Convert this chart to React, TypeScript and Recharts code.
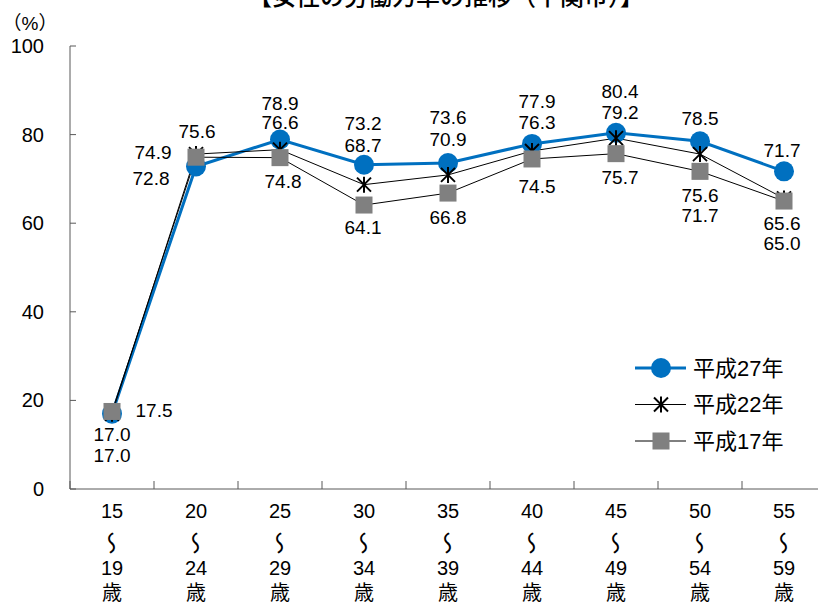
import React from "react";
import { LineChart, Line, XAxis, YAxis, Legend, LabelList } from "recharts";

const ageFrom = ["15", "20", "25", "30", "35", "40", "45", "50", "55"];
const ageTo = ["19", "24", "29", "34", "39", "44", "49", "54", "59"];

const h27 = [17.0, 72.8, 78.9, 73.2, 73.6, 77.9, 80.4, 78.5, 71.7];
const h22 = [17.0, 75.6, 76.6, 68.7, 70.9, 76.3, 79.2, 75.6, 65.6];
const h17 = [17.5, 74.9, 74.8, 64.1, 66.8, 74.5, 75.7, 71.7, 65.0];

const yTicks = [0, 20, 40, 60, 80, 100];
const seriesNames = ["平成27年", "平成22年", "平成17年"];

const data = ageFrom.map((from, i) => ({
  from,
  to: ageTo[i],
  h27: h27[i],
  h22: h22[i],
  h17: h17[i],
}));

// where each value label sits relative to its point (dx, dy)
const h27Offsets: [number, number][] = [
  [0, 42], [-45, 12], [0, -36], [-1, -41], [0, -45], [5, -42], [4, -41], [0, -23], [-2, -21],
];
const h22Offsets: [number, number][] = [
  [0, 21], [1, -23], [0, -27], [-1, -39], [0, -35], [5, -28], [4, -26], [0, 41], [-2, 25],
];
const h17Offsets: [number, number][] = [
  [42, -1], [-43, -5], [3, 24], [-1, 22], [0, 24], [5, 28], [4, 24], [0, 44], [-2, 42],
];

const FONT = '"Liberation Sans", "Noto Sans CJK JP", sans-serif';
const BLUE = "#0070C0";
const GRAY = "#808080";
const AXIS = "#595959";
const STEP = 84;

const makeLabel = (offsets: [number, number][]) => (props: any) => {
  const { x, y, value, index } = props;
  const [dx, dy] = offsets[index] || [0, 0];
  return (
    <text
      x={x + dx}
      y={y + dy}
      textAnchor="middle"
      dominantBaseline="central"
      fontSize={19}
      fontFamily={FONT}
      fill="#000"
    >
      {Number(value).toFixed(1)}
    </text>
  );
};

const Circle = ({ cx, cy }: { cx: number; cy: number }) => (
  <circle cx={cx} cy={cy} r={10} fill={BLUE} />
);
const Star = ({ cx, cy }: { cx: number; cy: number }) => (
  <g stroke="#000" strokeWidth={2}>
    <line x1={cx - 7} y1={cy - 7} x2={cx + 7} y2={cy + 7} />
    <line x1={cx - 7} y1={cy + 7} x2={cx + 7} y2={cy - 7} />
    <line x1={cx} y1={cy - 8} x2={cx} y2={cy + 8} />
  </g>
);
const Square = ({ cx, cy }: { cx: number; cy: number }) => (
  <rect x={cx - 8.5} y={cy - 8.5} width={17} height={17} fill={GRAY} />
);

// age band label: "15 / 〜 / 19 / 歳", the wave dash turned upright
const XTick = (props: any) => {
  const { x, y, payload, index } = props;
  const row = data[index] || data[payload.index] || { from: "", to: "" };
  return (
    <g>
      <line x1={x - STEP / 2} y1={y - 8} x2={x - STEP / 2} y2={y} stroke={AXIS} />
      <text textAnchor="middle" fontSize={20} fontFamily={FONT} fill="#000">
        <tspan x={x} y={y + 29}>{row.from}</tspan>
        <tspan x={x} y={y + 86}>{row.to}</tspan>
        <tspan x={x} y={y + 111}>歳</tspan>
      </text>
      <text
        x={0}
        y={0}
        textAnchor="middle"
        dominantBaseline="central"
        fontSize={23}
        fontFamily={FONT}
        fill="#000"
        transform={`translate(${x}, ${y + 54}) rotate(90) scale(1, -1)`}
      >
        〜
      </text>
    </g>
  );
};

const YTick = (props: any) => {
  const { x, y, payload } = props;
  return (
    <g>
      <line x1={x} y1={y} x2={x + 6} y2={y} stroke={AXIS} />
      <text
        x={x - 26}
        y={y}
        textAnchor="end"
        dominantBaseline="central"
        fontSize={20}
        fontFamily={FONT}
        fill="#000"
      >
        {payload.value}
      </text>
    </g>
  );
};

const LegendBox = () => {
  const rows = [
    { name: seriesNames[0], color: BLUE, width: 3, marker: <Circle cx={26} cy={0} /> },
    { name: seriesNames[1], color: "#000", width: 1, marker: <Star cx={26} cy={0} /> },
    { name: seriesNames[2], color: "#000", width: 1, marker: <Square cx={26} cy={0} /> },
  ];
  return (
    <svg width={185} height={110}>
      {rows.map((r, i) => (
        <g key={r.name} transform={`translate(5, ${16 + i * 36.5})`}>
          <line x1={0} y1={0} x2={51} y2={0} stroke={r.color} strokeWidth={r.width} />
          {r.marker}
          <text
            x={58}
            y={0}
            dominantBaseline="central"
            fontSize={22}
            fontFamily={FONT}
            fill="#000"
          >
            {r.name}
          </text>
        </g>
      ))}
    </svg>
  );
};

export default function App() {
  return (
    <div
      style={{
        position: "fixed",
        left: 0,
        top: 0,
        width: 818,
        height: 606,
        overflow: "hidden",
        background: "#fff",
        fontFamily: FONT,
      }}
    >
      <LineChart
        width={830}
        height={606}
        data={data}
        margin={{ top: 46, right: 4, bottom: 0, left: 0 }}
      >
        <text
          x={446}
          y={5}
          textAnchor="middle"
          fontSize={24}
          fontWeight={500}
          fontFamily={FONT}
          fill="#000"
        >
          【女性の労働力率の推移（下関市）】
        </text>
        <text x={30} y={23} textAnchor="middle" dominantBaseline="central" fontSize={19} fontFamily={FONT} fill="#000">
          （%）
        </text>
        <XAxis
          dataKey="from"
          height={117}
          interval={0}
          tickSize={0}
          tickMargin={0}
          tickLine={false}
          padding={{ left: STEP / 2, right: STEP / 2 }}
          axisLine={{ stroke: AXIS }}
          tick={<XTick />}
        />
        <YAxis
          width={70}
          domain={[0, 100]}
          ticks={yTicks}
          interval={0}
          tickSize={0}
          tickMargin={0}
          tickLine={false}
          axisLine={{ stroke: AXIS }}
          tick={<YTick />}
        />
        <Legend
          layout="horizontal"
          verticalAlign="middle"
          align="center"
          wrapperStyle={{ position: "absolute", left: 630, top: 352, width: 185 }}
          content={<LegendBox />}
        />
        <Line
          dataKey="h27"
          name={seriesNames[0]}
          stroke={BLUE}
          strokeWidth={3}
          isAnimationActive={false}
          dot={(p: any) => <Circle key={`a${p.index}`} cx={p.cx} cy={p.cy} />}
        >
          <LabelList dataKey="h27" content={makeLabel(h27Offsets)} />
        </Line>
        <Line
          dataKey="h22"
          name={seriesNames[1]}
          stroke="#000"
          strokeWidth={1}
          isAnimationActive={false}
          dot={(p: any) => <Star key={`b${p.index}`} cx={p.cx} cy={p.cy} />}
        >
          <LabelList dataKey="h22" content={makeLabel(h22Offsets)} />
        </Line>
        <Line
          dataKey="h17"
          name={seriesNames[2]}
          stroke="#000"
          strokeWidth={1}
          isAnimationActive={false}
          dot={(p: any) => <Square key={`c${p.index}`} cx={p.cx} cy={p.cy} />}
        >
          <LabelList dataKey="h17" content={makeLabel(h17Offsets)} />
        </Line>
      </LineChart>
    </div>
  );
}
